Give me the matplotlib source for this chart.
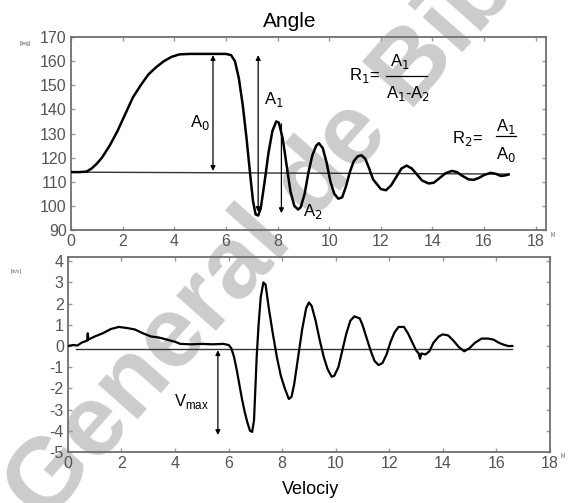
import matplotlib.pyplot as plt

plt.rcParams['font.family'] = ['Liberation Sans', 'DejaVu Sans']
plt.rcParams['axes.unicode_minus'] = False

# ── Angle trace (time [s], angle [deg]) ──────────────────────
angle_t = [0, 0.3, 0.6, 0.8, 1.0, 1.2, 1.5, 1.8, 2.1, 2.4, 2.7, 3.0, 3.3, 3.6,
           3.9, 4.2, 4.6, 5.0, 5.5, 6.0, 6.2, 6.35, 6.5, 6.65, 6.8, 6.95, 7.05,
           7.15, 7.25, 7.35, 7.5, 7.65, 7.8, 7.95, 8.05, 8.2, 8.35, 8.5, 8.65,
           8.8, 8.9, 9.05, 9.2, 9.35, 9.5, 9.6, 9.75, 9.9, 10.05, 10.2, 10.35,
           10.5, 10.65, 10.8, 10.95, 11.1, 11.25, 11.4, 11.55, 11.7, 11.85, 12.0,
           12.2, 12.4, 12.6, 12.8, 13.0, 13.2, 13.4, 13.6, 13.85, 14.05, 14.25,
           14.5, 14.75, 14.95, 15.15, 15.4, 15.6, 15.8, 16.0, 16.25, 16.45,
           16.65, 16.8, 16.95]
angle_v = [114, 114, 114.2, 115.5, 117.5, 120, 125, 131, 138, 145, 150, 154.5,
           157.5, 160, 161.8, 162.8, 163, 163, 163, 163, 162.5, 160, 153, 142,
           128, 112, 102, 96.5, 96, 99, 110, 122, 131, 135, 134.5, 128, 117,
           106, 100, 98.5, 99.5, 105, 114, 121, 125, 126, 124, 118, 110, 105,
           103, 103.5, 108, 114, 118.5, 120.5, 121, 119.5, 115.5, 111, 109, 107,
           106.5, 108.5, 112, 115.5, 116.7, 115.5, 113, 110.5, 109.3, 109.6,
           111.3, 113.5, 114.5, 114, 112.5, 111, 110.8, 111.6, 112.8, 113.7,
           113.3, 112.4, 112.6, 113]
angle_rest = 113.6

# ── Velocity trace (time [s], velocity [m/s]) ────────────────
vel_t = [0, 0.2, 0.35, 0.5, 0.6, 0.7, 0.72, 0.74, 0.76, 1.0, 1.3, 1.6, 1.9,
         2.2, 2.5, 2.8, 3.1, 3.4, 3.7, 4.0, 4.2, 4.6, 5.0, 5.4, 5.8, 6.0, 6.1,
         6.2, 6.3, 6.4, 6.5, 6.6, 6.7, 6.8, 6.88, 6.95, 7.0, 7.05, 7.12, 7.2,
         7.3, 7.38, 7.5, 7.65, 7.8, 7.95, 8.1, 8.25, 8.35, 8.45, 8.6, 8.75,
         8.9, 9.0, 9.1, 9.25, 9.4, 9.55, 9.7, 9.85, 9.95, 10.1, 10.25, 10.4,
         10.55, 10.7, 10.8, 10.9, 11.0, 11.15, 11.3, 11.45, 11.6, 11.75, 11.9,
         12.05, 12.2, 12.35, 12.55, 12.7, 12.85, 13.0, 13.1, 13.15, 13.2,
         13.35, 13.5, 13.65, 13.85, 14.0, 14.2, 14.4, 14.6, 14.8, 15.0, 15.2,
         15.45, 15.7, 15.9, 16.1, 16.3, 16.45, 16.6]
vel_v = [0.0, 0.05, 0.02, 0.15, 0.2, 0.25, 0.25, 0.6, 0.3, 0.45, 0.6, 0.8,
         0.9, 0.85, 0.78, 0.6, 0.45, 0.4, 0.3, 0.2, 0.1, 0.08, 0.1, 0.08, 0.1,
         0.05, -0.1, -0.5, -1.1, -1.8, -2.5, -3.1, -3.6, -4.0, -4.05, -3.5,
         -2.0, -0.5, 1.0, 2.3, 3.0, 2.9, 1.8, 0.6, -0.5, -1.4, -2.0, -2.5,
         -2.4, -1.8, -0.5, 0.8, 1.8, 2.05, 1.9, 1.2, 0.3, -0.5, -1.1, -1.45,
         -1.4, -1.0, -0.2, 0.6, 1.2, 1.4, 1.35, 1.3, 1.0, 0.4, -0.2, -0.7,
         -0.9, -0.8, -0.4, 0.2, 0.65, 0.9, 0.9, 0.6, 0.2, -0.2, -0.35, -0.6,
         -0.35, -0.4, -0.25, 0.15, 0.45, 0.55, 0.5, 0.25, -0.05, -0.25, -0.1,
         0.15, 0.35, 0.35, 0.3, 0.15, 0.05, 0.0, 0.0]
vel_rest = -0.12

angle_ticks = list(range(90, 171, 10))
vel_ticks = list(range(-5, 5))
time_ticks = list(range(0, 19, 2))

TICK_GREY = '#555555'
SPINE_GREY = '#707070'

fig = plt.figure(figsize=(5.71, 5.03), dpi=100)

# faint diagonal library stamp behind both panels
fig.text(0.078, -0.045, 'General de Biblioteca', fontsize=73, color='#cccccc',
         fontweight='bold', rotation=48.5, rotation_mode='anchor', ha='left',
         va='baseline', zorder=-5)

ax1 = fig.add_axes([0.1243, 0.5427, 0.832, 0.3837])
ax2 = fig.add_axes([0.119, 0.1014, 0.844, 0.3877])


def style_axes(ax):
    ax.patch.set_alpha(0)
    for s in ax.spines.values():
        s.set_color(SPINE_GREY)
        s.set_linewidth(1.3)
    ax.tick_params(direction='in', length=3, width=1, color='#999999',
                   top=True, right=True, labelsize=11.5, labelcolor=TICK_GREY,
                   pad=3)
    ax.set_xticks(time_ticks)


# ── Upper panel: angle ───────────────────────────────────────
style_axes(ax1)
ax1.plot(angle_t, angle_v, color='black', lw=1.8, zorder=3)
ax1.plot([0, angle_t[-1]], [angle_rest + 0.4, angle_rest - 0.4],
         color='#333333', lw=1.0, zorder=2)
ax1.set_xlim(0, 18.4)
ax1.set_ylim(90, 170)
ax1.set_yticks(angle_ticks)
fig.text(0.508, 0.958, 'Angle', fontsize=15, ha='center', va='center')

arrow_kw = dict(arrowstyle='<|-|>', color='black', lw=0.9,
                mutation_scale=7, shrinkA=0, shrinkB=0)
down_kw = dict(arrowstyle='-|>', color='black', lw=0.9,
               mutation_scale=7, shrinkA=0, shrinkB=0)
ax1.annotate('', xy=(5.5, 162.5), xytext=(5.5, 114.5), arrowprops=arrow_kw)
ax1.annotate('', xy=(7.25, 162.5), xytext=(7.25, 97.5), arrowprops=arrow_kw)
ax1.annotate('', xy=(8.15, 97), xytext=(8.15, 134), arrowprops=down_kw)

ax1.text(5.0, 134.5, r'A$_0$', fontsize=12, ha='center', va='center')
ax1.text(7.85, 144, r'A$_1$', fontsize=12, ha='center', va='center')
ax1.text(9.35, 97.5, r'A$_2$', fontsize=12, ha='center', va='center')

# damping ratio definitions
ax1.text(11.35, 154, r'R$_1$=', fontsize=12, ha='center', va='center')
ax1.text(12.75, 160, r'A$_1$', fontsize=12, ha='center', va='center')
ax1.plot([12.2, 13.8], [153.8, 153.8], color='black', lw=0.9)
ax1.text(13.05, 146.5, r'A$_1$-A$_2$', fontsize=12, ha='center', va='center')

ax1.text(15.35, 128, r'R$_2$=', fontsize=12, ha='center', va='center')
ax1.text(16.85, 133, r'A$_1$', fontsize=12, ha='center', va='center')
ax1.plot([16.45, 17.25], [129, 129], color='black', lw=0.9)
ax1.text(16.85, 121.5, r'A$_0$', fontsize=12, ha='center', va='center')

fig.text(0.035, 0.911, '[deg]', fontsize=3.5, color=TICK_GREY)
fig.text(0.965, 0.530, '[s]', fontsize=3.5, color=TICK_GREY)

# ── Lower panel: velocity ────────────────────────────────────
style_axes(ax2)
ax2.plot(vel_t, vel_v, color='black', lw=1.6, zorder=3)
ax2.plot([0.3, vel_t[-1]], [vel_rest, vel_rest], color='#333333', lw=1.0,
         zorder=2)
ax2.set_xlim(0, 18)
ax2.set_ylim(-5, 4.2)
ax2.set_yticks(vel_ticks)
fig.text(0.543, 0.026, 'Velociy', fontsize=13, ha='center', va='center')

ax2.annotate('', xy=(5.6, -0.2), xytext=(5.6, -4.2), arrowprops=arrow_kw)
ax2.text(4.6, -2.6, r'V$_{\mathregular{max}}$', fontsize=12, ha='center',
         va='center')

fig.text(0.018, 0.458, '[m/s]', fontsize=3.5, color=TICK_GREY)
fig.text(0.982, 0.092, '[s]', fontsize=3.5, color=TICK_GREY)

fig.savefig('out.png', dpi=100)
